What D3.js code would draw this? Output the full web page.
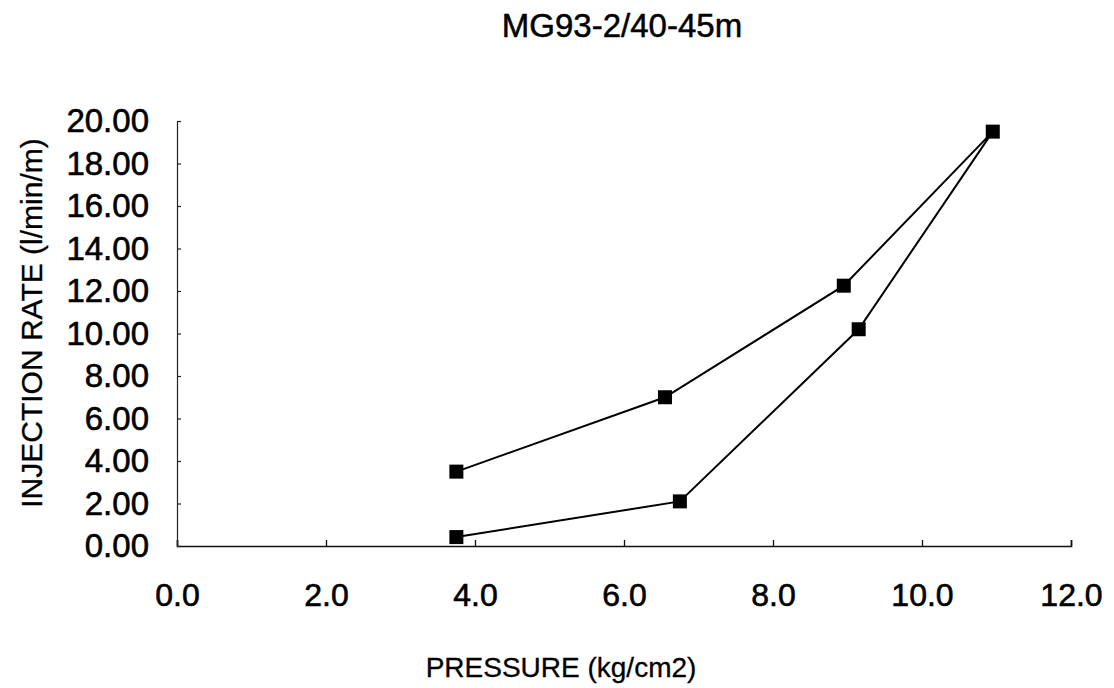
<!DOCTYPE html>
<html>
<head>
<meta charset="utf-8">
<script src="https://cdn.jsdelivr.net/npm/d3@7"></script>
<style>
  html, body { margin: 0; padding: 0; background: #fff; }
  svg { display: block; font-family: "Liberation Sans", Arial, sans-serif; }
</style>
</head>
<body>
<svg id="chart" width="1114" height="688"></svg>
<script>
const pressure = [3.75, 6.75, 9.15, 10.95, 8.95, 6.55, 3.75];
const injectionRate = [0.42, 2.1, 10.2, 19.5, 12.25, 7.0, 3.5];
const xTicks = [0, 2, 4, 6, 8, 10, 12];
const yTicks = [0, 2, 4, 6, 8, 10, 12, 14, 16, 18, 20];
const title = "MG93-2/40-45m";
const xTitle = "PRESSURE (kg/cm2)";
const yTitle = "INJECTION RATE (l/min/m)";

const svg = d3.select("#chart");
const x = d3.scaleLinear().domain([0, 12]).range([177, 1071]);
const y = d3.scaleLinear().domain([0, 20]).range([546, 121]);

// Title
svg.append("text").attr("x", 622).attr("y", 37)
  .attr("text-anchor", "middle").attr("font-size", 33).attr("fill", "#000")
  .attr("stroke", "#000").attr("stroke-width", 0.5)
  .text(title);

// X axis
const xAxis = d3.axisBottom(x).tickValues(xTicks).tickSize(-6).tickPadding(41)
  .tickFormat(d3.format(".1f"));
const gx = svg.append("g").attr("transform", `translate(0,${y(0)})`).call(xAxis);
gx.select(".domain").attr("stroke", "#111").attr("stroke-width", 1.6);
gx.selectAll(".tick line").attr("stroke", "#111").attr("stroke-width", 1.3);
gx.selectAll(".tick text").attr("font-size", 32).attr("fill", "#000")
  .attr("stroke", "#000").attr("stroke-width", 0.6)
  .attr("font-family", "Liberation Sans, Arial, sans-serif")
  .attr("dy", "0.6em");

// Y axis
const yAxis = d3.axisLeft(y).tickValues(yTicks).tickSize(-4).tickPadding(28)
  .tickFormat(d3.format(".2f"));
const gy = svg.append("g").attr("transform", `translate(${x(0)},0)`).call(yAxis);
gy.select(".domain").attr("stroke", "#222").attr("stroke-width", 1.2);
gy.selectAll(".tick line").attr("stroke", "#222").attr("stroke-width", 1.2);
gy.selectAll(".tick text").attr("font-size", 33).attr("fill", "#000")
  .attr("stroke", "#000").attr("stroke-width", 0.6)
  .attr("font-family", "Liberation Sans, Arial, sans-serif");

// Axis titles
svg.append("text").attr("x", 561).attr("y", 677)
  .attr("text-anchor", "middle").attr("font-size", 28).attr("fill", "#000")
  .attr("stroke", "#000").attr("stroke-width", 0.3)
  .text(xTitle);
svg.append("text").attr("transform", "translate(42,323) rotate(-90)")
  .attr("text-anchor", "middle").attr("font-size", 30).attr("fill", "#000")
  .attr("stroke", "#000").attr("stroke-width", 0.3)
  .text(yTitle);

// Line + markers
const pts = pressure.map((p, i) => [p, injectionRate[i]]);
const line = d3.line().x(d => x(d[0])).y(d => y(d[1]));
svg.append("path").datum(pts).attr("d", line)
  .attr("fill", "none").attr("stroke", "#000").attr("stroke-width", 2);
svg.selectAll("rect.m").data(pts).enter().append("rect").attr("class", "m")
  .attr("x", d => x(d[0]) - 7).attr("y", d => y(d[1]) - 7)
  .attr("width", 14).attr("height", 14).attr("fill", "#000");
</script>
</body>
</html>
